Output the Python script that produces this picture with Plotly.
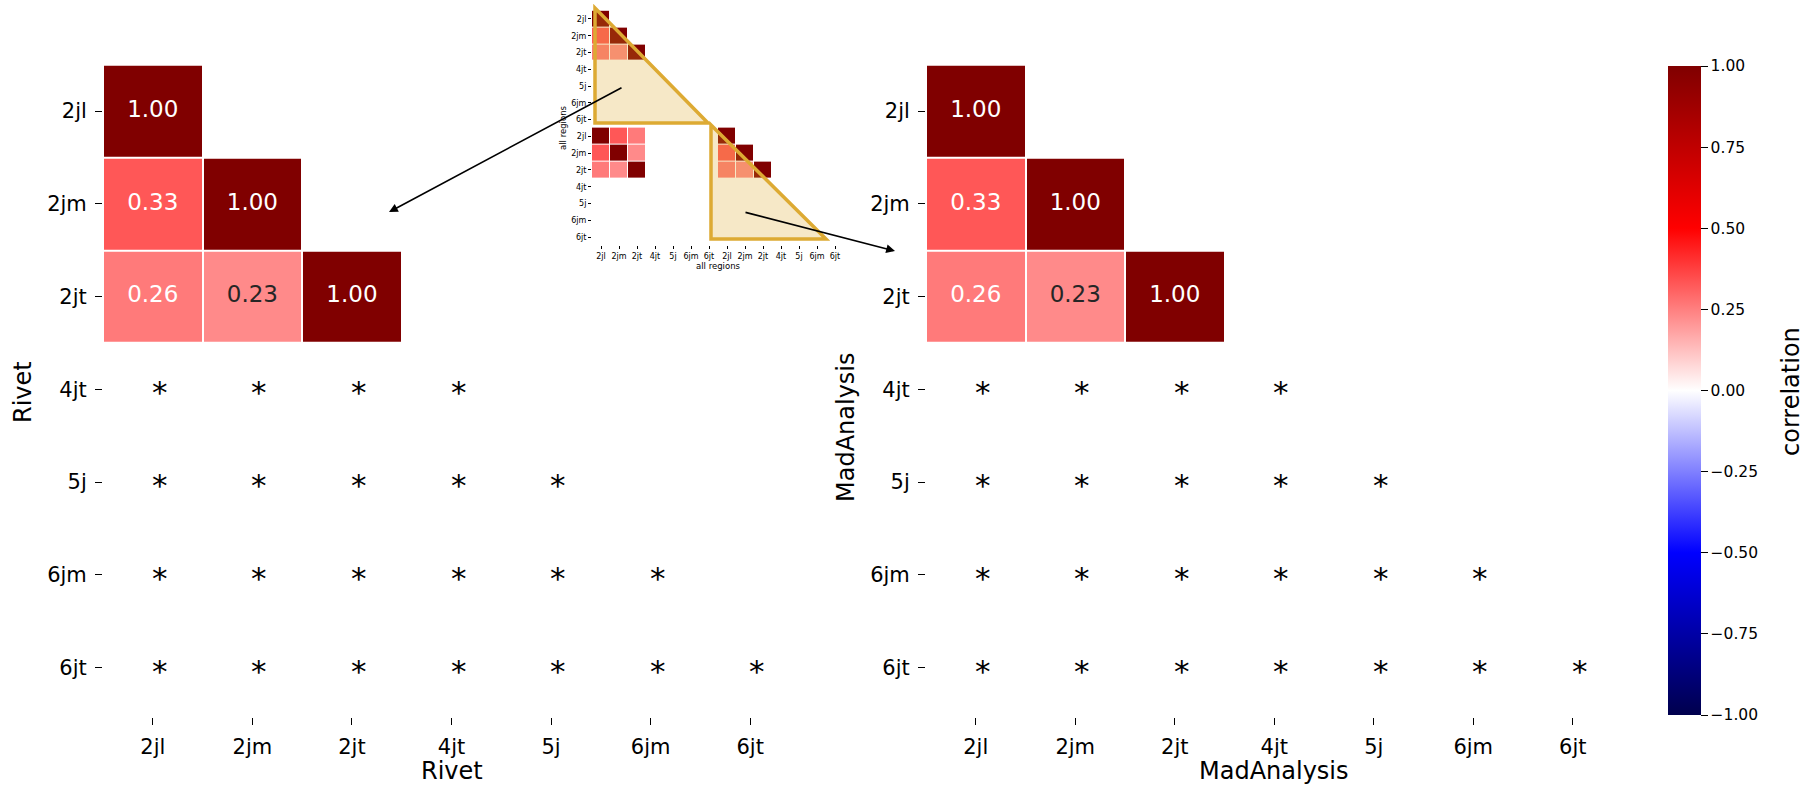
import plotly.graph_objects as go

W, H = 1804, 786

regions = ["2jl", "2jm", "2jt", "4jt", "5j", "6jm", "6jt"]

# correlations that could be computed (first three regions), lower triangle
rivet_corr = [
    [1.00, None, None],
    [0.33, 1.00, None],
    [0.26, 0.23, 1.00],
]
mad_corr = [
    [1.00, None, None],
    [0.33, 1.00, None],
    [0.26, 0.23, 1.00],
]
# Rivet x MadAnalysis cross block used in the overview matrix
cross_corr = [
    [1.00, 0.33, 0.26],
    [0.33, 1.00, 0.23],
    [0.26, 0.23, 1.00],
]

# matplotlib "seismic"
seismic_nodes = [(0.0, (0, 0, 77)), (0.25, (0, 0, 255)), (0.5, (255, 255, 255)),
                 (0.75, (255, 0, 0)), (1.0, (128, 0, 0))]
seismic = [[p, "rgb(%d,%d,%d)" % c] for p, c in seismic_nodes]


def seismic_rgb(v):
    t = (v + 1) / 2
    for (p0, c0), (p1, c1) in zip(seismic_nodes[:-1], seismic_nodes[1:]):
        if p0 <= t <= p1:
            f = (t - p0) / (p1 - p0)
            return [(a + (b - a) * f) / 255 for a, b in zip(c0, c1)]
    return [c / 255 for c in seismic_nodes[-1][1]]


def text_color(v):
    lin = [c / 12.92 if c <= 0.03928 else ((c + 0.055) / 1.055) ** 2.4 for c in seismic_rgb(v)]
    lum = 0.2126 * lin[0] + 0.7152 * lin[1] + 0.0722 * lin[2]
    return "#262626" if lum > 0.408 else "white"


def full_matrix(block):
    n = len(regions)
    z = [[None] * n for _ in range(n)]
    for i, row in enumerate(block):
        for j, v in enumerate(row):
            z[i][j] = v
    return z


def overview_matrix():
    n = len(regions)
    z = [[None] * (2 * n) for _ in range(2 * n)]
    k = len(cross_corr)
    for i in range(k):
        for j in range(k):
            if rivet_corr[i][j] is not None:
                z[i][j] = rivet_corr[i][j]
            if mad_corr[i][j] is not None:
                z[n + i][n + j] = mad_corr[i][j]
            z[n + i][j] = cross_corr[i][j]
    return z


fig = go.Figure()

idx = list(range(len(regions)))
panels = [("x", "y", rivet_corr), ("x2", "y2", mad_corr)]
annotations = []
for xa, ya, block in panels:
    z = full_matrix(block)
    fig.add_trace(go.Heatmap(z=z, x=idx, y=idx, coloraxis="coloraxis", xgap=2, ygap=2,
                             hoverongaps=False, xaxis=xa, yaxis=ya))
    tx, ty, tt, tc = [], [], [], []
    for i, row in enumerate(block):
        for j, v in enumerate(row):
            if v is not None:
                tx.append(j); ty.append(i); tt.append("%.2f" % v); tc.append(text_color(v))
    fig.add_trace(go.Scatter(x=tx, y=ty, text=tt, mode="text", textposition="middle center",
                             textfont=dict(family="DejaVu Sans", size=23, color=tc),
                             hoverinfo="skip", showlegend=False, xaxis=xa, yaxis=ya))
    # undefined correlations are flagged with an asterisk
    for i in range(len(block), len(regions)):
        for j in range(i + 1):
            annotations.append(dict(x=j, y=i, xref=xa, yref=ya, text="*", showarrow=False,
                                    xshift=7, yshift=-3,
                                    font=dict(family="DejaVu Sans", size=31, color="black")))

# overview of the full matrix
labels2 = regions + regions
fig.add_trace(go.Heatmap(z=overview_matrix(), x=list(range(14)), y=list(range(14)),
                         coloraxis="coloraxis", xgap=1, ygap=1, hoverongaps=False,
                         xaxis="x3", yaxis="y3"))

tickfont = dict(family="DejaVu Sans", size=21, color="black")
axis_common = dict(showgrid=False, zeroline=False, showline=False, ticks="outside",
                   ticklen=7, tickwidth=1.3, tickcolor="black", tickfont=tickfont,
                   tickvals=idx, ticktext=regions, ticklabelstandoff=4)
ybottom = 1 - 717 / H
ytop = 1 - 64.7 / H
yrange = [6.5 + 3 / 92.8, -0.5]

fig.update_layout(
    width=W, height=H, margin=dict(l=0, r=0, t=0, b=0),
    paper_bgcolor="white", plot_bgcolor="white",
    font=dict(family="DejaVu Sans", color="black"),
    xaxis=dict(domain=[103 / W, 800 / W], range=[-0.5, 6.5], anchor="y", **axis_common),
    yaxis=dict(domain=[ybottom, ytop], range=yrange, anchor="x", **axis_common),
    xaxis2=dict(domain=[926 / W, 1622.5 / W], range=[-0.5, 6.5], anchor="y2", **axis_common),
    yaxis2=dict(domain=[ybottom, ytop], range=yrange, anchor="x2", **axis_common),
    xaxis3=dict(domain=[592 / W, 844 / W], range=[-0.5, 13.5], anchor="y3",
                showgrid=False, zeroline=False, showline=False, ticks="outside",
                ticklen=3, tickwidth=1, tickcolor="black",
                tickvals=list(range(14)), ticktext=labels2, tickangle=0,
                tickfont=dict(family="DejaVu Sans", size=8, color="black")),
    yaxis3=dict(domain=[1 - 245.4 / H, 1 - 10.6 / H], range=[13.5, -0.5], anchor="x3",
                showgrid=False, zeroline=False, showline=False, ticks="outside",
                ticklen=3, tickwidth=1, tickcolor="black",
                tickvals=list(range(14)), ticktext=labels2,
                tickfont=dict(family="DejaVu Sans", size=8, color="black")),
    coloraxis=dict(
        colorscale=seismic, cmin=-1, cmax=1,
        colorbar=dict(
            x=1668 / W, xanchor="left", xpad=0, y=1 - 390.5 / H, yanchor="middle", ypad=0,
            len=649, lenmode="pixels", thickness=33, thicknessmode="pixels",
            outlinewidth=0, ticks="outside", ticklen=7, tickwidth=1.3, tickcolor="black",
            tickvals=[-1, -0.75, -0.5, -0.25, 0, 0.25, 0.5, 0.75, 1], tickformat=".2f",
            tickfont=dict(family="DejaVu Sans", size=15.5, color="black"),
        ),
    ),
)

title_font = dict(family="DejaVu Sans", size=24, color="black")
small_font = dict(family="DejaVu Sans", size=8.5, color="black")
annotations += [
    dict(x=451.5 / W, y=1 - 771 / H, text="Rivet", font=title_font),
    dict(x=1274 / W, y=1 - 771 / H, text="MadAnalysis", font=title_font),
    dict(x=23 / W, y=1 - 392 / H, text="Rivet", font=title_font, textangle=-90),
    dict(x=846 / W, y=1 - 427 / H, text="MadAnalysis", font=title_font, textangle=-90),
    dict(x=1791 / W, y=1 - 392 / H, text="correlation", font=title_font, textangle=-90),
    dict(x=718 / W, y=1 - 266 / H, text="all regions", font=small_font),
    dict(x=563 / W, y=1 - 128 / H, text="all regions", font=small_font, textangle=-90),
]
for a in annotations[-7:]:
    a.update(xref="paper", yref="paper", showarrow=False, xanchor="center", yanchor="middle")

# arrows from the highlighted blocks to the detailed panels
annotations += [
    dict(x=389 / W, y=1 - 212 / H, xref="paper", yref="paper", ax=234, ay=-125, text="",
         showarrow=True, arrowhead=2, arrowsize=1.1, arrowwidth=1.6, arrowcolor="black", standoff=0),
    dict(x=895 / W, y=1 - 251 / H, xref="paper", yref="paper", ax=-151, ay=-39, text="",
         showarrow=True, arrowhead=2, arrowsize=1.1, arrowwidth=1.6, arrowcolor="black", standoff=0),
]
fig.update_layout(annotations=annotations)


def tri(pts):
    p = ["%s%.5f,%.5f" % ("M" if k == 0 else "L", x / W, 1 - y / H) for k, (x, y) in enumerate(pts)]
    return " ".join(p) + " Z"


for pts in [[(595, 8), (595, 123), (708, 123)], [(711, 125), (711, 239), (826, 239)]]:
    fig.add_shape(type="path", path=tri(pts), xref="paper", yref="paper", layer="above",
                  fillcolor="rgba(218,165,32,0.25)", line=dict(color="#DDAA33", width=3.5))

fig.write_html("out.html")
